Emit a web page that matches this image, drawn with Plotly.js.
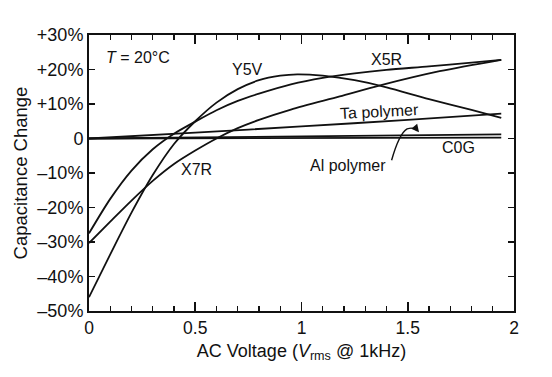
<!DOCTYPE html>
<html>
<head>
<meta charset="utf-8">
<script src="https://cdn.plot.ly/plotly-3.0.1.min.js"></script>
<style>html,body{margin:0;padding:0;background:#fff;}#chart{width:552px;height:377px;}</style>
</head>
<body>
<div id="chart"></div>
<script>
// ---- data (AC voltage in Vrms, capacitance change in %) ----
const vY5V = [0, 0.1, 0.2, 0.3, 0.4, 0.5, 0.6, 0.7, 0.8, 0.9, 0.98, 1.1, 1.25, 1.4, 1.6, 1.8, 1.94];
const cY5V = [-46, -33.6, -21.5, -10.6, -1.6, 5.0, 10.4, 14.3, 16.9, 18.2, 18.6, 18.2, 16.9, 14.8, 11.4, 8.3, 6.0];

const vX5R = [0, 0.1, 0.2, 0.3, 0.4, 0.5, 0.6, 0.7, 0.8, 0.95, 1.1, 1.25, 1.4, 1.6, 1.8, 1.94];
const cX5R = [-27.5, -17.5, -9.3, -3.1, 1.4, 4.9, 8.2, 10.9, 13.0, 15.7, 17.6, 18.9, 19.9, 20.9, 22.0, 22.8];

const vX7R = [0, 0.1, 0.2, 0.3, 0.4, 0.5, 0.6, 0.7, 0.8, 0.95, 1.18, 1.37, 1.65, 1.94];
const cX7R = [-30.3, -24.1, -18.0, -12.3, -7.4, -3.5, 0.0, 3.0, 5.4, 8.4, 12.2, 15.4, 19.5, 22.8];

const vTa = [0, 0.5, 1.0, 1.5, 1.94];
const cTa = [0, 1.7, 3.5, 5.4, 7.2];

const vAl = [0, 1.94];
const cAl = [0, 1.2];

const vC0G = [0, 1.94];
const cC0G = [0, 0.25];

const xTickVals = [0, 0.5, 1, 1.5, 2];
const xTickText = ['0', '0.5', '1', '1.5', '2'];
const yTickVals = [30, 20, 10, 0, -10, -20, -30, -40, -50];
const yTickText = ['+30%', '+20%', '+10%', '0', '\u201310%', '\u201320%', '\u201330%', '\u201340%', '\u201350%'];

// ---- chart ----
const FONT = '"Liberation Sans", Arial, Helvetica, sans-serif';
const INK = '#111';
function series(x, y, name) {
  return {x: x, y: y, name: name, type: 'scatter', mode: 'lines',
          line: {color: INK, width: 1.8, shape: 'spline', smoothing: 0.8},
          hoverinfo: 'skip'};
}
const data = [
  series(vY5V, cY5V, 'Y5V'),
  series(vX5R, cX5R, 'X5R'),
  series(vX7R, cX7R, 'X7R'),
  series(vTa, cTa, 'Ta polymer'),
  series(vAl, cAl, 'Al polymer'),
  series(vC0G, cC0G, 'C0G'),
  // empty trace so the top (mirror) axis with minor ticks is drawn
  {x: [], y: [], xaxis: 'x2', yaxis: 'y', type: 'scatter', mode: 'lines', hoverinfo: 'skip'}
];

function label(x, y, text, extra) {
  return Object.assign({x: x, y: y, xref: 'x', yref: 'y', text: text, showarrow: false,
    font: {family: FONT, size: 16, color: INK}}, extra || {});
}

const layout = {
  width: 552, height: 377,
  margin: {l: 89, r: 38, t: 35, b: 66},
  paper_bgcolor: '#fff', plot_bgcolor: '#fff',
  showlegend: false,
  font: {family: FONT, color: INK},
  xaxis: {
    range: [0, 2], tickvals: xTickVals, ticktext: xTickText,
    ticks: 'inside', ticklen: 9, tickwidth: 1.6, tickcolor: INK,
    minor: {dtick: 0.1, ticks: 'inside', ticklen: 5, tickwidth: 1.4, tickcolor: INK, showgrid: false},
    showline: true, linewidth: 2, linecolor: INK, mirror: 'ticks',
    showgrid: false, zeroline: false,
    tickfont: {family: FONT, size: 17.5, color: INK},
    title: {text: 'AC Voltage (<i>V</i><sub>rms</sub> @ 1kHz)', font: {family: FONT, size: 18, color: INK}, standoff: 7}
  },
  xaxis2: {
    overlaying: 'x', side: 'top', anchor: 'y',
    range: [0, 2], tickvals: xTickVals, showticklabels: false,
    ticks: 'inside', ticklen: 9, tickwidth: 1.6, tickcolor: INK,
    minor: {dtick: 0.1, ticks: 'inside', ticklen: 5, tickwidth: 1.4, tickcolor: INK, showgrid: false},
    showline: false, showgrid: false, zeroline: false
  },
  yaxis: {
    range: [-50, 30], tickvals: yTickVals, ticktext: yTickText,
    ticks: 'inside', ticklen: 6, tickwidth: 1.6, tickcolor: INK,
    showline: true, linewidth: 2, linecolor: INK, mirror: 'ticks',
    showgrid: false, zeroline: false,
    tickfont: {family: FONT, size: 18, color: INK},
    title: {text: 'Capacitance Change', font: {family: FONT, size: 18.5, color: INK}, standoff: 4}
  },
  annotations: [
    label(0.23, 23.6, '<i>T</i> = 20\u00B0C'),
    label(0.748, 19.9, 'Y5V'),
    label(1.398, 22.8, 'X5R'),
    label(1.365, 7.9, 'Ta polymer', {textangle: -3}),
    label(1.741, -2.6, 'C0G'),
    label(1.219, -7.8, 'Al polymer'),
    label(0.504, -9.0, 'X7R'),
    {x: 1.553, y: 1.8, xref: 'x', yref: 'y', ax: -4, ay: -5, axref: 'pixel', ayref: 'pixel',
     text: '', showarrow: true, arrowhead: 2, arrowsize: 1.1, arrowwidth: 1.4, arrowcolor: INK}
  ],
  shapes: [
    {type: 'path', xref: 'x', yref: 'y',
     path: 'M 1.424,-6.3 Q 1.46,1.5 1.497,2.8 Q 1.53,3.4 1.545,2.2',
     line: {color: INK, width: 1.4}}
  ]
};

Plotly.newPlot('chart', data, layout, {staticPlot: true, displayModeBar: false});
</script>
</body>
</html>
